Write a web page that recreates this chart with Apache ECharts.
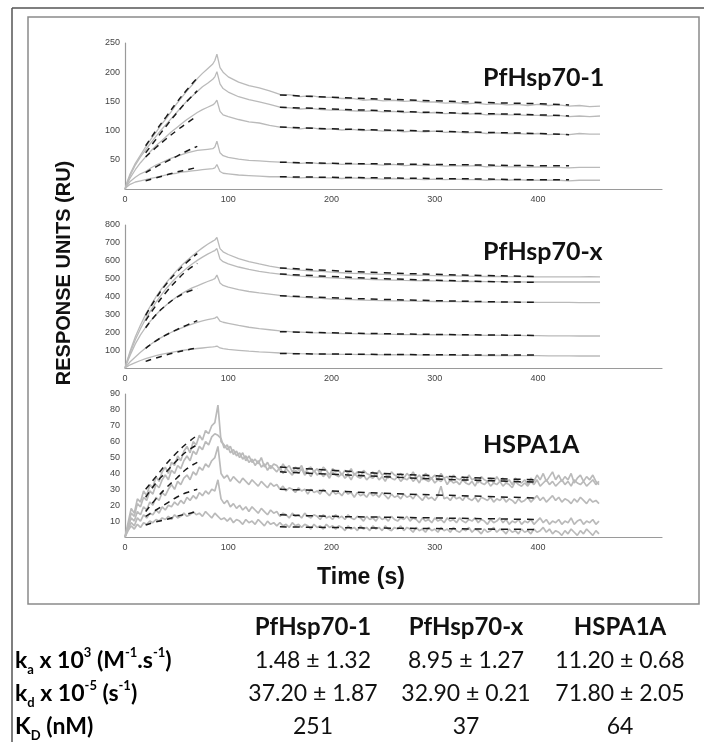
<!DOCTYPE html>
<html>
<head>
<meta charset="utf-8">
<script src="https://cdn.jsdelivr.net/npm/echarts@6/dist/echarts.min.js"></script>
<style>
html, body { margin: 0; padding: 0; background: #fff; }
#chart { width: 704px; height: 742px; }
</style>
</head>
<body>
<div id="chart"></div>
<script>
// time (s) for PfHsp70-1 and PfHsp70-x sensorgrams
const timeA = [0, 2, 5, 10, 15, 20, 25, 30, 35, 40, 45, 50, 55, 60, 65, 70, 75, 80, 85, 87, 89, 92, 95, 100,
  110, 120, 130, 140, 150, 160, 170, 180, 190, 200, 210, 220, 230, 240, 250, 260, 270, 280, 290, 300,
  310, 320, 330, 340, 350, 360, 370, 380, 390, 400, 410, 420, 430, 440, 450, 460]
// time (s) for HSPA1A sensorgrams (noisier, sampled every 3 s)
const timeB = [0, 3, 6, 9, 12, 15, 18, 21, 24, 27, 30, 33, 36, 39, 42, 45, 48, 51, 54, 57,
  60, 63, 66, 69, 72, 75, 78, 81, 84, 87, 90, 93, 96, 99, 102, 105, 108, 111, 114, 117,
  120, 123, 126, 129, 132, 135, 138, 141, 144, 147, 150, 153, 156, 159, 162, 165, 168, 171, 174, 177,
  180, 183, 186, 189, 192, 195, 198, 201, 204, 207, 210, 213, 216, 219, 222, 225, 228, 231, 234, 237,
  240, 243, 246, 249, 252, 255, 258, 261, 264, 267, 270, 273, 276, 279, 282, 285, 288, 291, 294, 297,
  300, 303, 306, 309, 312, 315, 318, 321, 324, 327, 330, 333, 336, 339, 342, 345, 348, 351, 354, 357,
  360, 363, 366, 369, 372, 375, 378, 381, 384, 387, 390, 393, 396, 399, 402, 405, 408, 411, 414, 417,
  420, 423, 426, 429, 432, 435, 438, 441, 444, 447, 450, 453, 456, 459]
const fitOnTime = [20, 30, 40, 50, 60, 70]
const fitOffTimeA = [150, 200, 250, 300, 350, 400, 430]
const fitOffTime = [150, 200, 250, 300, 350, 400]

const panelNames = ['PfHsp70-1', 'PfHsp70-x', 'HSPA1A']
const xTickLabels = ['0', '100', '200', '300', '400']
const yTicksPf1 = [50, 100, 150, 200, 250]
const yTicksPfx = [100, 200, 300, 400, 500, 600, 700, 800]
const yTicksHs = [10, 20, 30, 40, 50, 60, 70, 80, 90]

// PfHsp70-1 response (RU), five analyte concentrations
const pf1Curves = [
  [0, 12, 26, 44, 58, 72, 85, 97, 110, 121, 133, 146, 157, 168, 178, 189, 198, 206, 214, 220, 231, 208, 200, 192,
    183, 177, 173, 168, 162, 161, 158, 160, 157, 157, 155, 155, 152, 153, 151, 152, 150, 151, 149, 149,
    147, 148, 146, 147, 145, 146, 144, 145, 143, 145, 143, 144, 142, 143, 141, 142],
  [0, 10, 23, 41, 55, 67, 79, 90, 101, 111, 121, 131, 141, 151, 159, 167, 175, 181, 188, 192, 201, 180, 172, 166,
    158, 153, 149, 145, 140, 139, 137, 138, 136, 135, 135, 134, 133, 134, 132, 133, 131, 132, 130, 131,
    129, 130, 128, 129, 127, 128, 127, 127, 126, 126, 125, 126, 124, 125, 124, 125],
  [0, 8, 19, 33, 45, 55, 65, 74, 82, 90, 98, 105, 112, 119, 125, 131, 136, 140, 144, 147, 152, 133, 127, 124,
    119, 115, 113, 109, 106, 105, 103, 105, 102, 103, 101, 102, 100, 101, 99, 100, 98, 99, 98, 99,
    97, 98, 96, 97, 95, 96, 95, 95, 94, 95, 93, 94, 93, 95, 94, 94],
  [0, 6, 13, 20, 26, 30, 36, 41, 45, 49, 53, 56, 59, 62, 64, 66, 67, 68, 69, 72, 82, 62, 57, 54,
    51, 49, 48, 47, 46, 45, 44, 45, 43, 44, 42, 43, 42, 42, 41, 42, 40, 41, 40, 41,
    39, 40, 39, 40, 38, 39, 38, 38, 37, 38, 37, 37, 36, 37, 37, 37],
  [0, 4, 8, 12, 14, 16, 18, 20, 22, 24, 26, 27, 29, 30, 31, 32, 33, 34, 35, 36, 42, 30, 27, 26,
    24, 23, 22, 21, 21, 20, 19, 20, 19, 19, 18, 19, 18, 18, 17, 18, 17, 17, 16, 17,
    16, 17, 16, 16, 15, 16, 15, 16, 15, 15, 15, 15, 14, 15, 15, 15]
]
const pf1FitOn = [
  [74, 100, 124, 148, 170, 190],
  [62, 85, 108, 130, 150, 168],
  [55, 71, 86, 100, 113, 125],
  [28, 38, 47, 56, 65, 73],
  [14, 19, 24, 29, 33, 37]
]
const pf1FitOff = [
  [161, 157, 154, 151, 148, 146, 144],
  [140, 137, 134, 131, 129, 127, 125],
  [106, 103, 101, 99, 97, 95, 93],
  [46, 44, 43, 42, 41, 40, 40],
  [21, 20, 19, 18, 17, 16, 16]
]

// PfHsp70-x response (RU)
const pfxCurves = [
  [0, 40, 95, 175, 240, 300, 350, 398, 440, 478, 512, 545, 575, 602, 627, 650, 672, 692, 710, 716, 730, 668, 650, 635,
    612, 595, 582, 570, 560, 553, 548, 544, 540, 536, 533, 530, 528, 526, 524, 522, 520, 519, 518, 517,
    516, 515, 514, 513, 512, 512, 511, 511, 510, 510, 510, 510, 510, 510, 511, 510],
  [0, 35, 85, 158, 220, 275, 322, 368, 408, 445, 478, 508, 535, 560, 582, 602, 620, 637, 652, 657, 668, 610, 595, 583,
    565, 552, 541, 532, 525, 519, 514, 510, 507, 504, 501, 499, 497, 495, 493, 492, 490, 489, 488, 487,
    486, 485, 484, 484, 483, 483, 482, 482, 481, 481, 481, 481, 481, 481, 481, 481],
  [0, 30, 72, 135, 185, 228, 265, 298, 327, 353, 376, 397, 416, 433, 448, 460, 472, 484, 495, 500, 520, 475, 462, 452,
    438, 428, 420, 413, 406, 400, 396, 392, 389, 386, 384, 382, 380, 378, 377, 376, 375, 374, 373, 372,
    371, 371, 370, 370, 369, 369, 368, 368, 368, 367, 367, 367, 367, 366, 366, 366],
  [0, 15, 35, 62, 88, 112, 133, 153, 170, 186, 200, 213, 225, 236, 246, 255, 263, 270, 276, 279, 287, 262, 256, 250,
    238, 228, 220, 214, 208, 204, 201, 198, 196, 195, 193, 192, 191, 190, 189, 188, 187, 187, 186, 186,
    185, 185, 184, 184, 183, 183, 182, 182, 181, 181, 180, 180, 180, 179, 179, 179],
  [0, 8, 18, 30, 42, 52, 61, 69, 76, 82, 88, 93, 98, 102, 106, 109, 112, 115, 118, 120, 123, 112, 108, 104,
    99, 94, 90, 87, 84, 82, 80, 79, 78, 77, 76, 76, 75, 75, 74, 74, 73, 73, 72, 72,
    72, 71, 71, 71, 70, 70, 70, 69, 69, 69, 68, 68, 68, 67, 67, 67]
]
const pfxFitOn = [
  [295, 390, 470, 535, 592, 640],
  [265, 350, 425, 490, 545, 585],
  [225, 298, 352, 395, 425, 445],
  [110, 152, 186, 214, 240, 265],
  [37, 56, 73, 88, 101, 112]
]
const pfxFitOff = [
  [560, 545, 533, 524, 517, 512],
  [526, 512, 500, 491, 484, 479],
  [404, 393, 384, 377, 371, 367],
  [203, 197, 192, 188, 185, 182],
  [81, 78, 76, 74, 73, 72]
]

// HSPA1A response (RU)
const hsCurves = [
  [0, 9, 18, 15, 24, 22, 29, 26, 33, 31, 38, 35, 41, 44, 40, 47, 45, 51, 48, 54,
    57, 53, 60, 58, 64, 61, 67, 65, 70, 72, 83, 60, 58, 55, 57, 52, 54, 50, 53, 48,
    51, 47, 49, 46, 50, 44, 47, 43, 46, 45, 42, 46, 43, 45, 41, 44, 42, 45, 40, 43,
    44, 41, 43, 40, 44, 42, 39, 43, 41, 42, 39, 42, 40, 43, 39, 41, 38, 42, 40, 39,
    41, 38, 42, 39, 40, 37, 41, 39, 38, 40, 37, 40, 38, 41, 37, 39, 36, 40, 38, 37,
    39, 36, 40, 37, 38, 35, 39, 37, 36, 38, 35, 39, 36, 37, 34, 38, 36, 35, 37, 34,
    38, 35, 37, 34, 36, 33, 37, 35, 34, 36, 33, 37, 35, 39, 36, 40, 35, 38, 41, 36,
    39, 35, 38, 36, 40, 34, 37, 39, 35, 38, 36, 39, 35, 33],
  [0, 7, 15, 13, 21, 19, 25, 23, 29, 27, 33, 31, 36, 39, 36, 42, 40, 45, 43, 48,
    51, 48, 54, 52, 57, 55, 60, 58, 63, 65, 64, 62, 56, 58, 53, 55, 51, 53, 49, 51,
    47, 49, 45, 48, 44, 46, 42, 45, 43, 41, 44, 40, 43, 41, 39, 42, 40, 43, 39, 41,
    38, 42, 39, 41, 38, 40, 37, 41, 39, 38, 40, 37, 39, 36, 40, 38, 37, 39, 36, 38,
    37, 39, 36, 38, 35, 39, 37, 36, 38, 35, 37, 36, 38, 35, 37, 34, 38, 36, 35, 37,
    34, 36, 35, 37, 33, 36, 34, 35, 33, 36, 34, 33, 35, 32, 36, 34, 33, 35, 32, 34,
    33, 35, 32, 34, 33, 31, 35, 33, 32, 34, 32, 35, 33, 36, 32, 34, 36, 33, 35, 32,
    34, 36, 33, 35, 32, 36, 34, 33, 35, 32, 34, 36, 33, 35],
  [0, 6, 12, 10, 16, 14, 19, 17, 22, 20, 25, 23, 28, 26, 30, 33, 30, 35, 33, 37,
    39, 36, 41, 39, 44, 42, 46, 44, 48, 50, 57, 40, 37, 39, 35, 38, 36, 34, 37, 35,
    33, 36, 34, 32, 35, 33, 31, 34, 32, 33, 30, 32, 29, 31, 30, 28, 31, 29, 30, 27,
    30, 28, 29, 27, 30, 28, 26, 29, 27, 28, 26, 29, 27, 28, 25, 28, 26, 27, 25, 28,
    26, 27, 25, 28, 26, 24, 27, 25, 26, 24, 27, 25, 26, 24, 27, 25, 23, 26, 24, 25,
    23, 26, 32, 24, 25, 23, 26, 24, 25, 23, 26, 24, 23, 25, 22, 25, 24, 23, 25, 22,
    24, 23, 25, 22, 24, 23, 21, 24, 22, 23, 25, 22, 24, 26, 23, 25, 22, 24, 26, 23,
    25, 22, 24, 23, 21, 24, 22, 25, 23, 21, 24, 22, 23, 21],
  [0, 5, 9, 7, 12, 10, 14, 12, 15, 14, 17, 15, 19, 17, 20, 19, 22, 20, 23, 21,
    25, 23, 26, 24, 28, 26, 29, 27, 30, 29, 36, 24, 21, 23, 19, 21, 18, 20, 17, 19,
    16, 19, 17, 15, 18, 16, 14, 17, 15, 16, 13, 15, 14, 12, 15, 13, 14, 12, 15, 13,
    12, 14, 13, 11, 14, 12, 13, 11, 14, 12, 13, 11, 14, 12, 11, 13, 12, 10, 13, 11,
    12, 10, 13, 11, 12, 10, 13, 11, 10, 12, 11, 13, 10, 12, 11, 9, 12, 10, 11, 9,
    12, 10, 11, 9, 12, 10, 11, 9, 12, 10, 9, 11, 10, 12, 9, 11, 10, 8, 11, 9,
    10, 12, 9, 11, 8, 10, 9, 11, 8, 10, 9, 11, 8, 10, 12, 9, 11, 8, 10, 9,
    11, 8, 10, 9, 12, 8, 10, 11, 8, 10, 9, 11, 8, 10],
  [0, 4, 7, 5, 8, 6, 9, 8, 10, 9, 11, 10, 12, 11, 13, 11, 14, 12, 13, 15,
    13, 14, 16, 14, 15, 13, 16, 14, 12, 15, 13, 11, 12, 10, 12, 9, 11, 10, 8, 11,
    9, 10, 8, 11, 9, 7, 10, 8, 9, 7, 9, 7, 8, 6, 9, 7, 8, 6, 8, 7,
    5, 8, 6, 7, 5, 8, 6, 7, 5, 7, 6, 4, 7, 5, 6, 4, 7, 5, 6, 4,
    7, 5, 6, 4, 7, 5, 4, 6, 5, 7, 4, 6, 5, 3, 6, 4, 5, 3, 6, 4,
    5, 3, 6, 4, 5, 3, 6, 4, 3, 5, 4, 6, 3, 5, 4, 2, 5, 3, 4, 6,
    3, 5, 4, 2, 5, 3, 4, 2, 5, 3, 4, 2, 5, 3, 4, 6, 3, 5, 2, 4,
    3, 1, 4, 2, 5, 3, 1, 4, 2, 5, 3, 1, 4, 2]
]
const hsFitOn = [
  [30, 38, 46, 53, 59, 64],
  [25, 34, 41, 48, 54, 58],
  [16, 24, 31, 37, 43, 47],
  [13, 17, 21, 25, 28, 30],
  [7.5, 9.5, 11, 13, 14.5, 16]
]
const hsFitOff = [
  [44, 42, 40, 38.5, 37, 36],
  [41, 39.5, 38, 36.5, 35.5, 34.5],
  [30, 29, 27.5, 26.5, 25.5, 24.5],
  [14, 13, 12.5, 12, 11.5, 11],
  [6.4, 6, 5.6, 5.3, 5, 4.7]
]

// kinetic constants table
const tableRows = ['ka', 'kd', 'KD']
const kaValues = ['1.48 ± 1.32', '8.95 ± 1.27', '11.20 ± 0.68']
const kdValues = ['37.20 ± 1.87', '32.90 ± 0.21', '71.80 ± 2.05']
const KDValues = ['251', '37', '64']

const chart = echarts.init(document.getElementById('chart'), null, { renderer: 'canvas' })

const panels = [
  { curves: pf1Curves, time: timeA, fitOn: pf1FitOn, fitOff: pf1FitOff, offTime: fitOffTimeA, max: 250, step: 50, ticks: yTicksPf1, top: 43, height: 146, width: 1.3 },
  { curves: pfxCurves, time: timeA, fitOn: pfxFitOn, fitOff: pfxFitOff, offTime: fitOffTime, max: 800, step: 100, ticks: yTicksPfx, top: 225, height: 143, width: 1.3 },
  { curves: hsCurves, time: timeB, fitOn: hsFitOn, fitOff: hsFitOff, offTime: fitOffTime, max: 90, step: 10, ticks: yTicksHs, top: 394, height: 143, width: 1.7 }
]

const zip = (xs, ys) => ys.map((y, i) => [xs[i], y])
const grids = [], xAxes = [], yAxes = [], series = []
const axisColor = '#9a9a9a'

panels.forEach((p, k) => {
  grids.push({ left: 125, top: p.top, width: 537, height: p.height })
  xAxes.push({
    type: 'value', gridIndex: k, min: 0, max: 520, interval: 100,
    axisLine: { lineStyle: { color: axisColor, width: 1.2 } },
    axisTick: { show: false }, splitLine: { show: false },
    axisLabel: {
      color: '#444', fontSize: 9, fontFamily: 'Liberation Sans', margin: 6,
      formatter: v => xTickLabels.includes(String(v)) ? String(v) : ''
    }
  })
  yAxes.push({
    type: 'value', gridIndex: k, min: 0, max: p.max, interval: p.step,
    axisLine: { show: true, lineStyle: { color: axisColor, width: 1.2 } },
    axisTick: { show: false }, splitLine: { show: false },
    axisLabel: {
      color: '#444', fontSize: 9, fontFamily: 'Liberation Sans', margin: 5,
      formatter: v => p.ticks.includes(v) ? String(v) : ''
    }
  })
  p.curves.forEach(c => {
    series.push({
      type: 'line', xAxisIndex: k, yAxisIndex: k, data: zip(p.time, c),
      showSymbol: false, silent: true, z: 1,
      lineStyle: { color: '#bababa', width: p.width }
    })
  })
  p.fitOn.forEach(c => {
    series.push({
      type: 'line', xAxisIndex: k, yAxisIndex: k, data: zip(fitOnTime, c),
      showSymbol: false, silent: true, smooth: true, z: 3,
      lineStyle: { color: '#1a1a1a', width: 1.5, type: [6, 5] }
    })
  })
  p.fitOff.forEach(c => {
    series.push({
      type: 'line', xAxisIndex: k, yAxisIndex: k, data: zip(p.offTime, c),
      showSymbol: false, silent: true, smooth: true, z: 3,
      lineStyle: { color: '#1a1a1a', width: 1.5, type: [7, 6] }
    })
  })
})

const tableFont = 'Lato'
const labelRich = {
  m: { fontSize: 23, fontFamily: tableFont, fontWeight: 'bold', color: '#111', lineHeight: 30 },
  sub: { fontSize: 13, fontFamily: tableFont, fontWeight: 'bold', color: '#111', lineHeight: 14, verticalAlign: 'bottom' },
  sup: { fontSize: 13, fontFamily: tableFont, fontWeight: 'bold', color: '#111', lineHeight: 22, verticalAlign: 'top' }
}
const rowLabels = {
  ka: '{m|k}{sub|a}{m| x 10}{sup|3}{m| (M}{sup|-1}{m|.s}{sup|-1}{m|)}',
  kd: '{m|k}{sub|d}{m| x 10}{sup|-5}{m| (s}{sup|-1}{m|)}',
  KD: '{m|K}{sub|D}{m| (nM)}'
}
const colX = [313, 466, 620]
const rowY = [661, 694, 727]

const graphic = [
  { type: 'line', shape: { x1: 12, y1: 8, x2: 704, y2: 8 }, style: { stroke: '#555', lineWidth: 1.5 } },
  { type: 'line', shape: { x1: 12, y1: 8, x2: 12, y2: 742 }, style: { stroke: '#555', lineWidth: 1.5 } },
  { type: 'rect', shape: { x: 28, y: 17, width: 671, height: 587 }, style: { fill: 'none', stroke: '#8a8a8a', lineWidth: 1.5 } },
  {
    type: 'text', x: 64, y: 273, rotation: Math.PI / 2,
    style: { text: 'RESPONSE UNITS (RU)', font: 'bold 20px "Liberation Sans"', fill: '#111', align: 'center', verticalAlign: 'middle' }
  },
  {
    type: 'text', x: 361, y: 578,
    style: { text: 'Time (s)', font: 'bold 23px "Liberation Sans"', fill: '#111', align: 'center', verticalAlign: 'middle' }
  }
]
const titleY = [78, 252, 445]
panelNames.forEach((n, i) => {
  graphic.push({
    type: 'text', x: 483, y: titleY[i],
    style: { text: n, font: 'bold 25px Lato', fill: '#111', align: 'left', verticalAlign: 'middle' }
  })
  graphic.push({
    type: 'text', x: colX[i], y: 627,
    style: { text: n, font: 'bold 24px Lato', fill: '#111', align: 'center', verticalAlign: 'middle' }
  })
})
const rowValues = [kaValues, kdValues, KDValues]
tableRows.forEach((r, j) => {
  graphic.push({
    type: 'text', x: 15, y: rowY[j],
    style: { text: rowLabels[r], rich: labelRich, align: 'left', verticalAlign: 'middle' }
  })
  rowValues[j].forEach((v, i) => {
    graphic.push({
      type: 'text', x: colX[i], y: rowY[j],
      style: { text: v, font: '23px Lato', fill: '#111', align: 'center', verticalAlign: 'middle' }
    })
  })
})

chart.setOption({
  backgroundColor: '#fff',
  animation: false,
  grid: grids,
  xAxis: xAxes,
  yAxis: yAxes,
  series: series,
  graphic: graphic
})
</script>
</body>
</html>
